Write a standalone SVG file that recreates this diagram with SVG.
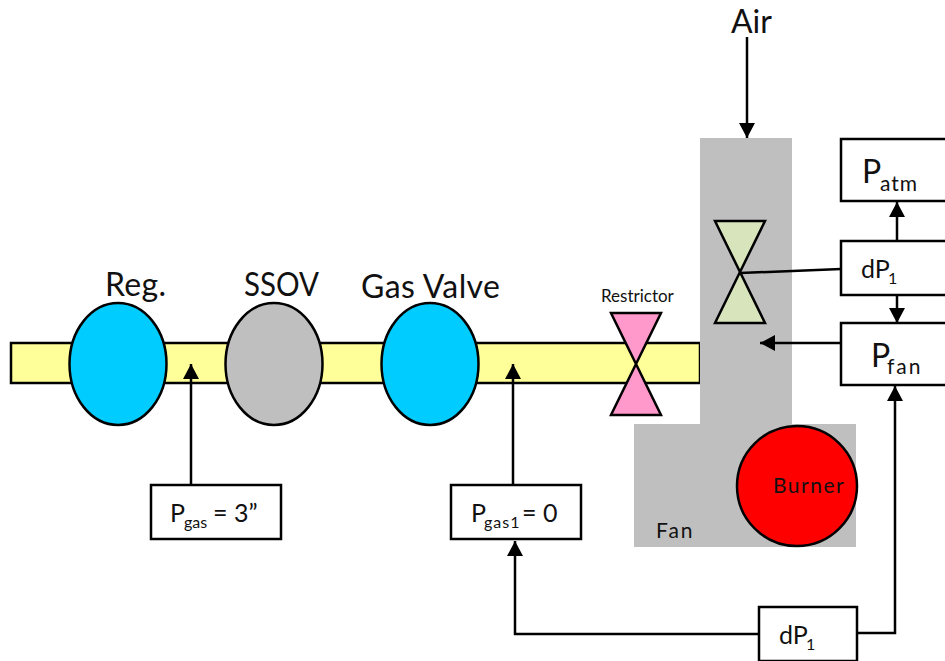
<svg xmlns="http://www.w3.org/2000/svg" width="945" height="661" viewBox="0 0 945 661">
<style>
text{font-family:"Lato","Carlito","Open Sans",sans-serif;fill:#111}
.s{stroke:#000;stroke-width:2.5}
.box{fill:#fff;stroke:#000;stroke-width:2.5}
.c{fill:none;stroke:#000;stroke-width:2.5}
.t32{font-size:32px}.t25{font-size:25px}.t21{font-size:21px}.t17{font-size:17px}
.sub{font-size:16px}.sub2{font-size:21px}
</style>
<defs><marker id="ah" markerUnits="userSpaceOnUse" markerWidth="16" markerHeight="16" refX="15" refY="8" orient="auto"><path d="M0 0L15 8L0 16Z" fill="#000"/></marker></defs>
<rect width="945" height="661" fill="#fff"/>
<g id="pipe"><rect x="11" y="343" width="689" height="40" fill="#ffff99" class="s"/></g>
<g id="duct"><path d="M700 138H792V424H856V547H634V424H700Z" fill="#bfbfbf"/><text x="656" y="538" class="t21" letter-spacing="2">Fan</text></g>
<g id="reg"><ellipse cx="118" cy="364" rx="48.5" ry="61" fill="#00ccff" class="s"/><text x="105" y="296" class="t32" textLength="61">Reg.</text></g>
<g id="ssov"><ellipse cx="274" cy="364" rx="48.5" ry="61" fill="#bfbfbf" class="s"/><text x="244" y="296" class="t32" textLength="75" lengthAdjust="spacingAndGlyphs">SSOV</text></g>
<g id="gas-valve"><ellipse cx="430" cy="364" rx="48.5" ry="61" fill="#00ccff" class="s"/><text x="361" y="298" class="t32" textLength="139">Gas Valve</text></g>
<g id="restrictor"><path d="M611 313H661L611 415H661Z" fill="#ff99cc" class="s"/><text x="601" y="302" class="t17">Restrictor</text></g>
<g id="air-valve"><path d="M715 221H765L715 323H765Z" fill="#d8e4bc" class="s"/></g>
<g id="burner"><circle cx="797" cy="486" r="60" fill="#ff0000" class="s"/><text x="773" y="493" class="t21" letter-spacing="1.5">Burner</text></g>
<g id="air"><text x="731" y="33" class="t32">Air</text></g>
<g id="patm"><rect x="841" y="139" width="110" height="62" class="box"/><text x="862" y="183" class="t32">P<tspan class="sub2" x="880" y="191" letter-spacing="1">atm</tspan></text></g>
<g id="dp1-top"><rect x="841" y="241" width="110" height="54" class="box"/><text x="861" y="278" class="t25">dP<tspan class="sub" x="888" y="284">1</tspan></text></g>
<g id="pfan"><rect x="841" y="323" width="110" height="62" class="box"/><text x="871" y="367" class="t32">P<tspan class="sub2" x="887" y="374" letter-spacing="2">fan</tspan></text></g>
<g id="dp1-bottom"><rect x="759" y="607" width="98" height="54" class="box"/><text x="779" y="644" class="t25">dP<tspan class="sub" x="806" y="650">1</tspan></text></g>
<g id="pgas"><rect x="151" y="485" width="130" height="54" class="box"/><text x="170" y="522" class="t25">P<tspan class="sub" x="184" y="528">gas</tspan><tspan x="213" y="522">= 3”</tspan></text></g>
<g id="pgas1"><rect x="451" y="485" width="130" height="54" class="box"/><text x="471" y="522" class="t25">P<tspan class="sub" x="484" y="528" letter-spacing="1">gas1</tspan><tspan x="522" y="522">= 0</tspan></text></g>
<g id="connectors">
<path class="c" d="M747 37V138" marker-end="url(#ah)"/>
<path class="c" d="M897 241V202" marker-end="url(#ah)"/>
<path class="c" d="M897 295V323" marker-end="url(#ah)"/>
<path class="c" d="M841 343H760" marker-end="url(#ah)"/>
<path class="c" d="M841 269L740 273"/>
<path class="c" d="M857 633H895V386" marker-end="url(#ah)"/>
<path class="c" d="M759 634H515V541" marker-end="url(#ah)"/>
<path class="c" d="M191 485V364" marker-end="url(#ah)"/>
<path class="c" d="M513 485V364" marker-end="url(#ah)"/>
</g>
</svg>
